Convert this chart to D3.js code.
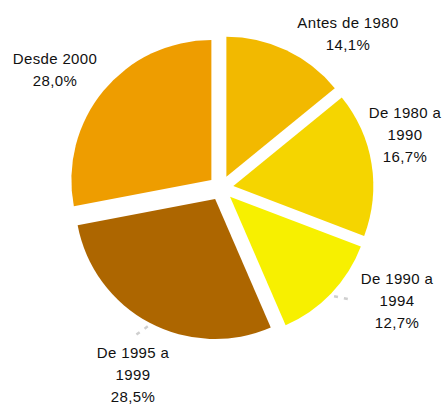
<!DOCTYPE html>
<html lang="es">
<head>
<meta charset="UTF-8">
<title>Pie</title>
<style>
  body { margin: 0; background: #fff; }
  svg { display: block; font-family: "Liberation Sans", Arial, sans-serif; }
  .lbl { font-size: 15px; fill: #111; letter-spacing: 0.35px; }
</style>
</head>
<body>
<svg id="chart" width="444" height="404"></svg>
<script src="https://cdn.jsdelivr.net/npm/d3@7/dist/d3.min.js"></script>
<script>
  // data
  const categories = ["Antes de 1980", "De 1980 a 1990", "De 1990 a 1994", "De 1995 a 1999", "Desde 2000"];
  const values = [14.1, 16.7, 12.7, 28.5, 28.0];
  const labelLines = [
    ["Antes de 1980"],
    ["De 1980 a", "1990"],
    ["De 1990 a", "1994"],
    ["De 1995 a", "1999"],
    ["Desde 2000"]
  ];
  const colors = ["#F2B900", "#F5D500", "#F7F000", "#AD6600", "#EE9D00"];

  // layout
  const cx = 221, cy = 188, radius = 140, explode = 12.5;
  // label centres relative to the pie centre (first line)
  const labelPos = [[127, -165], [184, -75], [176, 91], [-88, 165], [-166, -129]];
  const leader = [false, false, true, true, false];
  const lineH = 22;

  const svg = d3.select("#chart");
  const g = svg.append("g").attr("transform", `translate(${cx},${cy})`);

  const pie = d3.pie().sort(null).value(d => d);
  const arcs = pie(values);
  const arc = d3.arc().innerRadius(0).outerRadius(radius);

  const dir = d => {
    const a = (d.startAngle + d.endAngle) / 2;
    return [Math.sin(a), -Math.cos(a)];
  };

  g.selectAll("path.slice")
    .data(arcs)
    .join("path")
    .attr("class", "slice")
    .attr("fill", (d, i) => colors[i])
    .attr("transform", d => {
      const [dx, dy] = dir(d);
      return `translate(${dx * explode},${dy * explode})`;
    })
    .attr("d", arc);

  // leader lines
  g.selectAll("line.leader")
    .data(arcs.filter((d, i) => leader[i]))
    .join("line")
    .attr("class", "leader")
    .attr("x1", d => dir(d)[0] * (radius + explode + 4))
    .attr("y1", d => dir(d)[1] * (radius + explode + 4))
    .attr("x2", d => {
      const p = labelPos[d.index];
      return p[0] > 0 ? p[0] - 44 : p[0];
    })
    .attr("y2", d => {
      const p = labelPos[d.index];
      return p[0] > 0 ? p[1] + 21 : p[1] - 16;
    })
    .attr("stroke", "#cfcfcf")
    .attr("stroke-width", 2.5)
    .attr("stroke-dasharray", "4,6");

  // labels
  const labels = g.selectAll("text.lbl")
    .data(arcs)
    .join("text")
    .attr("class", "lbl")
    .attr("text-anchor", "middle")
    .attr("x", d => labelPos[d.index][0])
    .attr("y", d => labelPos[d.index][1] + 5);

  labels.each(function(d) {
    const t = d3.select(this);
    const i = d.index;
    const lines = labelLines[i].concat([values[i].toFixed(1).replace(".", ",") + "%"]);
    lines.forEach((s, k) => {
      t.append("tspan")
        .attr("x", labelPos[i][0])
        .attr("dy", k === 0 ? 0 : lineH)
        .text(s);
    });
  });
</script>
</body>
</html>
